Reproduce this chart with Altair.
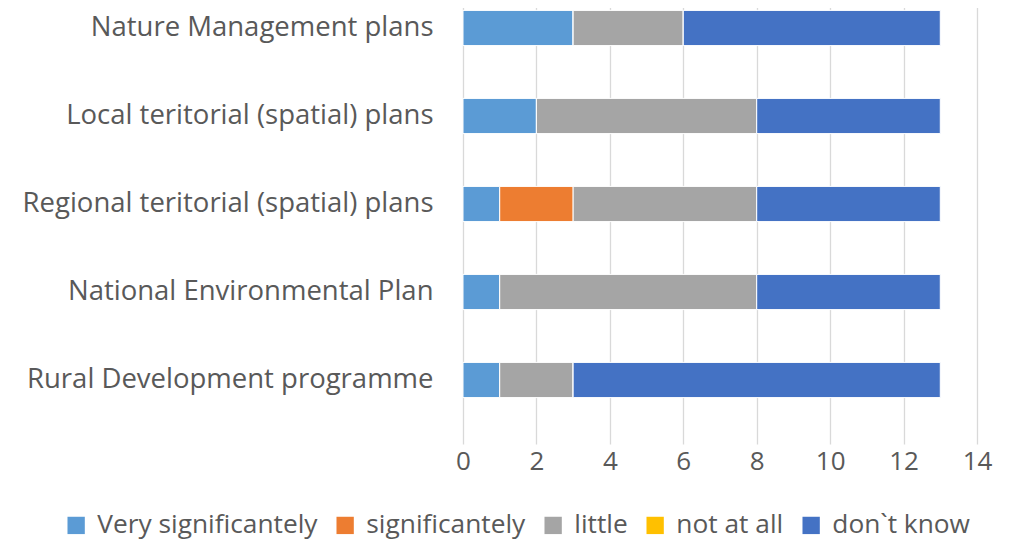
import altair as alt
import pandas as pd

categories = ["Nature Management plans", "Local teritorial (spatial) plans ",
              "Regional teritorial (spatial) plans", "National Environmental Plan",
              "Rural Development programme"]
series = ["Very significantely", "significantely", "little", "not at all", "don`t know"]
very_sig = [3, 2, 1, 1, 1]
sig = [0, 0, 2, 0, 0]
little = [3, 6, 5, 7, 2]
not_at_all = [0, 0, 0, 0, 0]
dont_know = [7, 5, 5, 5, 10]
colors = ["#5B9BD5", "#ED7D31", "#A5A5A5", "#FFC000", "#4472C4"]
x_ticks = [0, 2, 4, 6, 8, 10, 12, 14]

rows = []
for i, c in enumerate(categories):
    for j, (s, vals) in enumerate(zip(series, [very_sig, sig, little, not_at_all, dont_know])):
        rows.append({"category": c, "series": s, "value": vals[i], "order": j})
df = pd.DataFrame(rows)

FONT = "Open Sans"
GREY = "#595959"

chart = alt.Chart(df).mark_bar(stroke="white", strokeWidth=1).encode(
    y=alt.Y("category:N", sort=categories,
            scale=alt.Scale(range=[-24, 416], paddingInner=0.6, paddingOuter=0.3),
            axis=alt.Axis(title=None, domain=False, ticks=False, grid=False,
                          labelFont=FONT, labelFontSize=27.5, labelColor=GREY,
                          labelPadding=30, labelLimit=500)),
    x=alt.X("value:Q", stack="zero",
            scale=alt.Scale(domain=[0, 14], nice=False),
            axis=alt.Axis(title=None, values=x_ticks, domain=False, ticks=False,
                          grid=True, gridColor="#D9D9D9", gridWidth=1.3,
                          labelFont=FONT, labelFontSize=26, labelColor=GREY,
                          labelPadding=28, labelFlush=False)),
    color=alt.Color("series:N", sort=series,
                    scale=alt.Scale(domain=series, range=colors),
                    legend=alt.Legend(title=None, orient="none", direction="horizontal",
                                      legendX=-400, legendY=504, columns=5,
                                      symbolType="square", symbolSize=300,
                                      symbolStrokeWidth=0, symbolOpacity=1,
                                      labelFont=FONT, labelFontSize=26.3, labelColor=GREY,
                                      labelOffset=8, columnPadding=14, labelLimit=400)),
    order=alt.Order("order:Q"),
).properties(
    width=514, height=412,
    autosize=alt.AutoSizeParams(type="none"),
    padding={"left": 455, "top": 0, "right": 33, "bottom": 120},
).configure_view(stroke=None)

chart.save("out.html", embed_options={"renderer": "svg", "actions": False})
